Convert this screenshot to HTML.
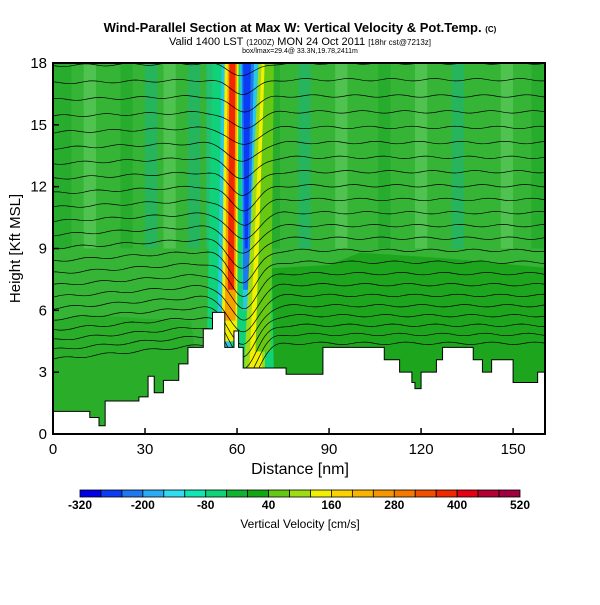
<!DOCTYPE html>
<html><head><meta charset="utf-8"><style>
body{margin:0;background:#fff;width:600px;height:600px;overflow:hidden;font-family:"Liberation Sans",sans-serif}
svg text{font-family:"Liberation Sans",sans-serif}
</style></head><body>
<svg id="c" width="600" height="600" xmlns="http://www.w3.org/2000/svg">
<text x="300" y="32" text-anchor="middle" font-size="13" font-weight="bold">Wind-Parallel Section at Max W: Vertical Velocity &amp; Pot.Temp. <tspan font-size="8">(C)</tspan></text>
<text x="300" y="45" text-anchor="middle" font-size="11">Valid 1400 LST <tspan font-size="8">(1200Z)</tspan> MON 24 Oct 2011 <tspan font-size="8">[18hr cst@7213z]</tspan></text>
<text x="300" y="53" text-anchor="middle" font-size="7">box/lmax=29.4@ 33.3N,19.78,2411m</text>
<g id="plot"></g>
<g id="axes"></g>
<g id="cbar"></g>
</svg>
<script>
const distances=[0,8,12,15,17,21,28,31,33,36,41,44,49,52,55,56,57.5,59,60,60.5,62,67,76,88,103,108,113,117,118,120,125,127,133,137,140,143,150,155,158,165];
const terrainKft=[1.1,1.1,0.8,0.4,1.6,1.6,1.8,2.8,2.0,2.6,3.4,4.2,5.1,5.9,5.9,4.2,4.2,5.0,5.0,4.2,3.2,3.2,2.9,4.2,4.2,3.6,3.0,2.5,2.2,3.0,3.6,4.2,4.2,3.6,3.0,3.6,2.5,2.5,3.0,3.0];
const cbarLevels=[-320,-280,-240,-200,-160,-120,-80,-40,0,40,80,120,160,200,240,280,320,360,400,440,480,520];
const cbarColors=["#0000e6","#0a3cf5","#1e78f0","#28aaf5","#32dcf0","#10e6b4","#10d278","#10b432","#12a812","#64c814","#a0dc14","#f0f000","#fad200","#fab400","#f59600","#f57800","#f05000","#f02800","#e60014","#b40032","#a00040"];
const cbarLabels=[-320,-200,-80,40,160,280,400,520];
const xTicks=[0,30,60,90,120,150];
const yTicks=[0,3,6,9,12,15,18];

const X0=53,X1=545,Y0=434,Y1=63,XMAX=160.4,YMAX=18;
const sx=v=>X0+(v/XMAX)*(X1-X0);
const sy=v=>Y0-(v/YMAX)*(Y0-Y1);
const NS="http://www.w3.org/2000/svg";
function mk(t,a,p){const e=document.createElementNS(NS,t);for(const k in a)e.setAttribute(k,a[k]);(p||document.getElementById('plot')).appendChild(e);return e;}
const plot=document.getElementById('plot');
const defs=mk('defs',{},plot);
const cp=mk('clipPath',{id:'cl'},defs);mk('rect',{x:X0,y:Y1,width:X1-X0,height:Y0-Y1},cp);
const g=mk('g',{'clip-path':'url(#cl)'},plot);


mk('rect',{x:X0,y:Y1,width:X1-X0,height:Y0-Y1,fill:'#36b436'},g);
const stripes=[[0,6,'#22a82a'],[10,14,'#5ac85a'],[22,26,'#22a82a'],[30,34,'#1fb46e'],[36,40,'#5ac85a'],[44,48,'#1fb46e'],[50,54,'#1ec38c'],[70,74,'#22a82a'],[80,84,'#1fb46e'],[92,96,'#5ac85a'],[106,110,'#22a82a'],[118,122,'#5ac85a'],[130,134,'#1fb46e'],[146,150,'#5ac85a'],[156,160,'#22a82a']];
stripes.forEach(s=>mk('rect',{x:sx(s[0]),y:Y1,width:sx(s[1])-sx(s[0]),height:sy(9)-Y1,fill:s[2],opacity:0.7},g));
mk('path',{d:`M${sx(66)},${sy(8)} L${sx(90)},${sy(8.2)} L${sx(100)},${sy(8.8)} L${sx(130)},${sy(8.5)} L${sx(165)},${sy(8)} L${sx(165)},${Y0} L${sx(66)},${Y0}Z`,fill:'#1ea51e'},g);
mk('path',{d:`M${X0},${sy(5.5)} L${sx(10)},${sy(5.8)} L${sx(30)},${sy(5.6)} L${sx(45)},${sy(5.5)} L${sx(50)},${Y0} L${X0},${Y0}Z`,fill:'#2aae2a'},g);
function band(xt0,xt1,xb0,xb1,hb,fill,op){mk('path',{d:`M${sx(xt0)},${Y1} L${sx(xt1)},${Y1} L${sx(xb1)},${sy(hb)} L${sx(xb0)},${sy(hb)}Z`,fill:fill,opacity:op||1},g);}
band(52,70,50,72,3,'#10d278');
band(55,59,53.5,58,4,'#28c8e6');
band(56,60.5,55,60,4.5,'#f0f000');
band(57,60,56,59.5,5.5,'#f5a000');
band(57.5,59.5,57,59,7,'#f02800');
band(61,67,62,64,6,'#28c8e6');
band(61.5,65.5,62,64,7,'#1e78f0');
band(62,64.5,62.5,63.5,9,'#0a3cf5');
band(67,70,62,69,2,'#a0dc14');
band(68,70.5,64,68,3,'#f0f000');
band(69,72,66,71,4,'#64c814');
for(let i=0;i<24;i++){
  const base=4.4+i*0.42+i*i*0.009;
  let d='';
  for(let x=0;x<=161;x+=1){
    let dx=x-62;
    let dip=-2.2*Math.exp(-dx*dx/40)*(1-i/30);
    let slope=(x<55?(55-x)*0.014*(1-i/26):0);
    let wav=0.06*Math.sin(x*0.45+i);
    let h=base+dip-slope+wav;
    d+=(x?'L':'M')+sx(x).toFixed(1)+','+sy(h).toFixed(1);
  }
  const c=mk('path',{d:d,fill:'none',stroke:'#000','stroke-width':0.7},g);
  
  
}
let td=`M${sx(distances[0])},${Y0+2}`;
for(let i=0;i<distances.length;i++){
  const xa=sx(distances[i]),xb=sx(i<distances.length-1?distances[i+1]:distances[i]);
  td+=` L${xa},${sy(terrainKft[i])} L${xb},${sy(terrainKft[i])}`;
}
td+=` L${sx(165)},${Y0+2}Z`;
const terr=mk('path',{d:td,fill:'#fff',stroke:'#000','stroke-width':1},g);


const ax=document.getElementById('axes');
const fr=mk('rect',{x:X0,y:Y1,width:X1-X0,height:Y0-Y1,fill:'none',stroke:'#000','stroke-width':2},ax);


xTicks.forEach(v=>{
  mk('line',{x1:sx(v),x2:sx(v),y1:Y0,y2:Y0-6,stroke:'#000','stroke-width':1.5},ax);
  const t=mk('text',{x:sx(v),y:Y0+20,'text-anchor':'middle','font-size':15},ax);t.textContent=v;
  
  
});
yTicks.forEach(v=>{
  mk('line',{x1:X0,x2:X0+6,y1:sy(v),y2:sy(v),stroke:'#000','stroke-width':1.5},ax);
  const t=mk('text',{x:X0-6,y:sy(v)+5,'text-anchor':'end','font-size':15},ax);t.textContent=v;
  
  
});
const xt=mk('text',{x:300,y:474,'text-anchor':'middle','font-size':16},ax);xt.textContent='Distance [nm]';


const yt=mk('text',{x:0,y:0,'text-anchor':'middle','font-size':15,transform:`translate(20,${(Y0+Y1)/2}) rotate(-90)`},ax);yt.textContent='Height [Kft MSL]';


const cb=document.getElementById('cbar');
const CX0=80,CX1=520,CY=490,CH=7;
const cw=(CX1-CX0)/cbarColors.length;
cbarColors.forEach((c,i)=>{const r=mk('rect',{x:CX0+i*cw,y:CY,width:cw,height:CH,fill:c,stroke:'#000','stroke-width':0.8},cb);

});
const cv=v=>CX0+(v-cbarLevels[0])/(cbarLevels[cbarLevels.length-1]-cbarLevels[0])*(CX1-CX0);
cbarLabels.forEach(v=>{const t=mk('text',{x:cv(v),y:CY+19,'text-anchor':'middle','font-size':12,'font-weight':'bold'},cb);t.textContent=v;

});
const ct=mk('text',{x:300,y:528,'text-anchor':'middle','font-size':12},cb);ct.textContent='Vertical Velocity [cm/s]';


</script>
</body></html>
